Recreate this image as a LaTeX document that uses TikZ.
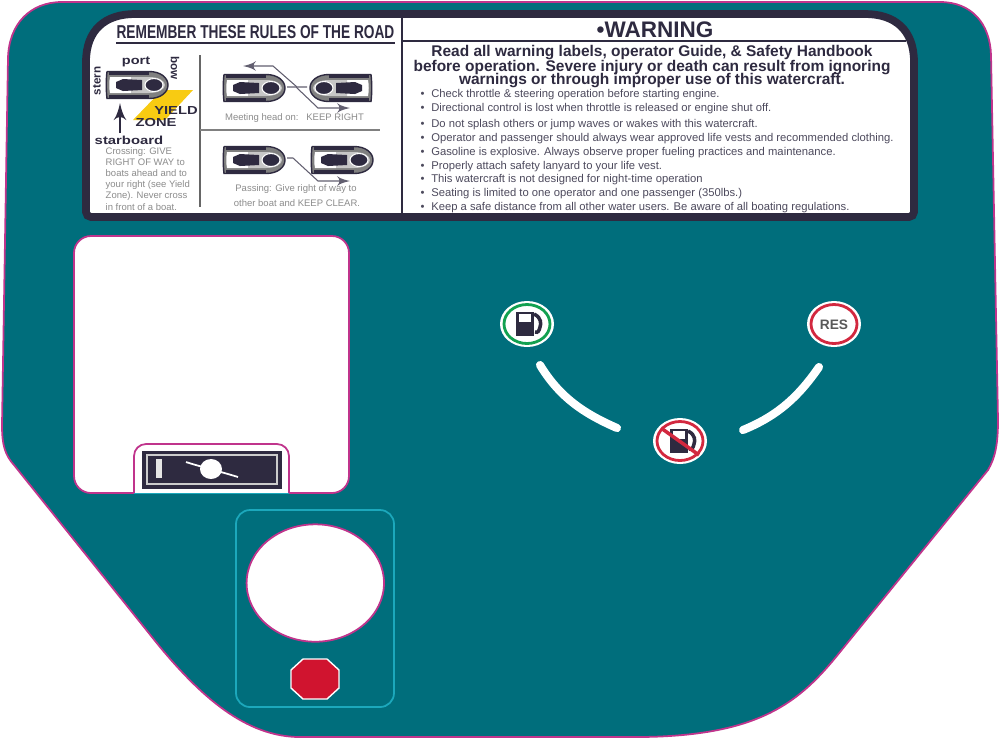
\documentclass[tikz,border=0pt]{standalone}
\usepackage{graphicx}
\usepackage{fontspec}
\setmainfont{Liberation Sans}
\usetikzlibrary{shapes,arrows}
\usetikzlibrary{calc}
\definecolor{hullteal}{HTML}{006E7C}
\definecolor{trimpink}{HTML}{C0348C}
\definecolor{inkdark}{HTML}{2E2A40}
\definecolor{zoneyellow}{HTML}{F8CB12}
\definecolor{stopred}{HTML}{D0142F}
\definecolor{ringred}{HTML}{D2283F}
\definecolor{ringgreen}{HTML}{12A050}
\definecolor{trimcyan}{HTML}{1CA8BC}
\tikzstyle{txt} = [inner sep=0pt, text=inkdark]
\tikzstyle{title} = [txt, font=\fontsize{5.3}{6}\selectfont\bfseries]
\tikzstyle{warnhead} = [txt, font=\fontsize{6.4}{7}\selectfont\bfseries]
\tikzstyle{warnline} = [txt, font=\fontsize{4.4}{5}\selectfont\bfseries]
\tikzstyle{ruleline} = [txt, anchor=west, text=inkdark!85, font=\fontsize{3.2}{4}\selectfont]
\tikzstyle{small} = [txt, text=black!45, font=\fontsize{2.7}{3}\selectfont]
\tikzstyle{tag} = [txt, font=\fontsize{3.3}{4}\selectfont\bfseries]
\tikzstyle{track} = [draw=inkdark!75, line width=0.3pt, ->]
\tikzstyle{slider} = [draw=white, line width=2.3pt, line cap=round]
\newcommand{\bul}{\makebox[3pt][l]{•}}
% one boat, nose to the right
\newcommand{\boat}[3]{
    \begin{scope}[shift={(#1)}, xscale=#2]
        \node[shape=coordinate] at (0,0) (#3) {};
        \fill[black!50, draw=inkdark, line width=0.4pt] (-30,-13.5) -- (12,-13.5)
            .. controls (24,-13.5) and (31,-7) .. (31,0)
            .. controls (31,7) and (24,13.5) .. (12,13.5) -- (-30,13.5)
            .. controls (-31,5) and (-31,-5) .. (-30,-13.5);
        \draw[inkdark, line width=0.6pt] (-28,-11.5) -- (12,-11.5);
        \draw[inkdark, line width=0.6pt] (-28,11.5) -- (12,11.5);
        \fill[white] (-27,-8) -- (-6,-8) -- (-6,8) -- (-27,8)
            .. controls (-28,3) and (-28,-3) .. (-27,-8);
        \fill[black!22] (-6,-8) -- (12,-8) .. controls (22,-8) and (28,-4) .. (28,0)
            .. controls (28,4) and (22,8) .. (12,8) -- (-6,8) -- cycle;
        \fill[inkdark] (-21,-3) -- (-14,-6) -- (5,-5) -- (5,5) -- (-14,6) -- (-21,3) -- cycle;
        \fill[inkdark, draw=white, line width=0.3pt] (17,0) ellipse [x radius=9,y radius=6.5];
    \end{scope}
}
% fuel pump sign
\newcommand{\pump}[1]{
    \begin{scope}[shift={(#1)}]
        \fill[inkdark] (-10,-12) rectangle (8,12);
        \fill[white] (-7,-10) rectangle (5,-2);
        \draw[inkdark, line width=1pt] (8,-10) .. controls (16,-6) and (15,0) .. (14,3)
            .. controls (13,7) and (12,9) .. (9,8);
    \end{scope}
}
\begin{document}
\begin{tikzpicture}[x=0.01cm, y=-0.01cm, >=latex']
    \useasboundingbox (0,0) rectangle (1000,741);
    % the plate
    \draw[fill=hullteal, draw=trimpink, line width=0.5pt] (62,2) -- (940,2)
        .. controls (972,2) and (990,24) .. (991,55) -- (998,420)
        .. controls (998,445) and (995,458) .. (988,470) -- (840,652)
        .. controls (800,702) and (760,736) .. (640,737) -- (300,737)
        .. controls (245,737) and (200,695) .. (160,647) -- (14,465)
        .. controls (5,455) and (2,445) .. (2,425) -- (8,58)
        .. controls (9,24) and (30,2) .. (62,2) -- cycle;

    % the rules panel
    \draw[fill=white, draw=inkdark, line width=2.2pt] (86,200) -- (86,62)
        .. controls (86,30) and (105,14) .. (135,14) -- (865,14)
        .. controls (895,14) and (914,30) .. (914,62) -- (914,200)
        [rounded corners=0.05cm] -- (914,217) -- (86,217) -- (86,200) -- cycle;
    \node[shape=coordinate] at (402,17) (divtop) {};
    \node[shape=coordinate] at (402,213) (divbot) {};
    \draw[inkdark, line width=0.6pt] (divtop) -- (divbot);
    \node[shape=coordinate] at (906,41) (headend) {};
    \draw[inkdark, line width=0.6pt] (402,41) -- (headend);

    % left side of the panel
    \node[title] at (255.5,32) (roadtitle) {\scalebox{.735}[1]{REMEMBER THESE RULES OF THE ROAD}};
    \node[shape=coordinate] at (116,43) (ula) {};
    \node[shape=coordinate] at (395,43) (ulb) {};
    \draw[inkdark, line width=0.6pt] (ula) -- (ulb);
    \node[shape=coordinate] at (200,55) (sepa) {};
    \node[shape=coordinate] at (200,207) (sepb) {};
    \node[shape=coordinate] at (380,130) (sepc) {};
    \node[shape=coordinate] at (200,130) (sepd) {};
    \draw[black!60, line width=0.5pt] (sepa) -- (sepb);
    \draw[black!50, line width=0.8pt] (sepd) -- (sepc);

    \fill[zoneyellow] (162,90) -- (193,90) -- (165,120) -- (133,120) -- cycle;
    \boat{137,85}{1}{boat1}
    \node[tag] at (136,62) (port) {\scalebox{1.25}[1]{port}};
    \node[tag, rotate=90] at (97,81) (stern) {stern};
    \node[tag, rotate=-90] at (175,68) (bow) {bow};
    \node[shape=coordinate] at (120,133) (arrowfoot) {};
    \node[shape=coordinate] at (120,103) (arrowtip) {};
    \draw[->, inkdark, line width=0.7pt] (arrowfoot) -- (arrowtip);
    \node[tag] at (176,110) (yield) {\scalebox{1.27}[1]{YIELD}};
    \node[tag] at (156,122) (zone) {\scalebox{1.27}[1]{ZONE}};
    \node[tag] at (129,140) (starboard) {\scalebox{1.28}[1]{starboard}};
    \node[small, anchor=west] at (105,152) (crossa) {Crossing: GIVE};
    \node[small, anchor=west] at (105,162) (crossb) {RIGHT OF WAY to};
    \node[small, anchor=west] at (105,173) (crossc) {boats ahead and to};
    \node[small, anchor=west] at (105,185) (crossd) {your right (see Yield};
    \node[small, anchor=west] at (105,196) (crosse) {Zone). Never cross};
    \node[small, anchor=west] at (105,207) (crossf) {in front of a boat.};

    % meeting head on
    \boat{254,88}{1}{boat2}
    \boat{341,88}{-1}{boat3}
    \node[shape=coordinate] at (307,87) (ta) {};
    \node[shape=coordinate] at (243,66) (tb) {};
    \node[shape=coordinate] at (287,87) (tc) {};
    \node[shape=coordinate] at (350,108) (td) {};
    \draw[track] (ta) -- (297,87) -- (273,66) -- (tb);
    \draw[track] (tc) -- (296,87) -- (318,108) -- (td);
    \node[small] at (294.5,118) (meeting) {Meeting head on:\ \ \ KEEP RIGHT};

    % passing
    \boat{254,160}{1}{boat4}
    \boat{342,160}{1}{boat5}
    \node[shape=coordinate] at (287,158) (te) {};
    \node[shape=coordinate] at (350,181) (tf) {};
    \draw[track] (te) -- (293,158) -- (318,181) -- (tf);
    \node[small] at (296,189) (passa) {Passing: Give right of way to};
    \node[small] at (297,203) (passb) {other boat and KEEP CLEAR.};

    % warning side of the panel
    \node[warnhead] at (655,30) (warnhd) {•WARNING};
    \node[warnline] at (652,53) (warna) {Read all warning labels, operator Guide, \& Safety Handbook};
    \node[warnline] at (652,67.5) (warnb) {before operation. Severe injury or death can result from ignoring};
    \node[warnline] at (652,81) (warnc) {warnings or through improper use of this watercraft.};
    \node[ruleline] at (420,95) (rule1) {\bul Check throttle \& steering operation before starting engine.};
    \node[ruleline] at (420,109) (rule2) {\bul Directional control is lost when throttle is released or engine shut off.};
    \node[ruleline] at (420,125) (rule3) {\bul Do not splash others or jump waves or wakes with this watercraft.};
    \node[ruleline] at (420,139) (rule4) {\bul Operator and passenger should always wear approved life vests and recommended clothing.};
    \node[ruleline] at (420,153) (rule5) {\bul Gasoline is explosive. Always observe proper fueling practices and maintenance.};
    \node[ruleline] at (420,167) (rule6) {\bul Properly attach safety lanyard to your life vest.};
    \node[ruleline] at (420,180) (rule7) {\bul This watercraft is not designed for night-time operation};
    \node[ruleline] at (420,194) (rule8) {\bul Seating is limited to one operator and one passenger (350lbs.)};
    \node[ruleline] at (420,208) (rule9) {\bul Keep a safe distance from all other water users. Be aware of all boating regulations.};

    % white window and its switch tab
    \draw[fill=white, draw=trimpink, line width=0.5pt, rounded corners=0.17cm] (74,493) rectangle (349,236);
    \draw[fill=white, draw=trimpink, line width=0.5pt, rounded corners=0.12cm] (134,500) -- (134,444) -- (289,444) -- (289,500);
    \fill[hullteal] (130,494) rectangle (293,505);
    \draw[trimcyan, line width=0.4pt] (134,493.5) -- (289,493.5);
    \fill[inkdark] (142,451) rectangle (282,489);
    \draw[white!80!black, line width=0.5pt] (147,455) rectangle (277,484);
    \fill[white!90!black] (156,459) rectangle (162,478);
    \node[shape=coordinate] at (186,462) (swa) {};
    \node[shape=coordinate] at (238,477) (swb) {};
    \draw[white, line width=0.5pt] (swa) .. controls (198,466) and (222,472) .. (swb);
    \fill[white] (211,469) ellipse [x radius=11,y radius=10];

    % gauge box
    \draw[trimcyan, line width=0.5pt, rounded corners=0.14cm] (236,510) rectangle (394,707);
    \draw[fill=white, draw=trimpink, line width=0.5pt] (315.3,583) ellipse [x radius=68.7,y radius=58.7];
    \draw[draw=white, fill=stopred, line width=0.4pt] (303,659) -- (327,659) -- (339,670) -- (339,688)
        -- (327,699) -- (303,699) -- (291,688) -- (291,670) -- cycle;

    % fuel signs
    \draw[fill=white, draw=none] (527,324) ellipse [x radius=27,y radius=23];
    \draw[ringgreen, line width=0.8pt] (527,324) ellipse [x radius=23,y radius=19.5];
    \pump{526,324}
    \node[shape=coordinate] at (527,324) (fuelon) {};

    \draw[fill=white, draw=none] (834,324) ellipse [x radius=27,y radius=23];
    \draw[ringred, line width=0.8pt] (834,324) ellipse [x radius=23,y radius=19.5];
    \node[txt, text=black!65, font=\fontsize{3.9}{5}\selectfont\bfseries] at (834,325) (fuelres) {RES};

    \draw[fill=white, draw=none] (680,441) ellipse [x radius=27,y radius=23];
    \draw[ringred, line width=0.8pt] (680,441) ellipse [x radius=23,y radius=19.5];
    \pump{680,441}
    \draw[ringred, line width=1pt] (661,428) -- (699,455);
    \node[shape=coordinate] at (680,441) (fueloff) {};

    % the two white slider arcs
    \node[shape=coordinate] at (540,365) (arca) {};
    \node[shape=coordinate] at (617,428) (arcb) {};
    \node[shape=coordinate] at (743,430) (arcc) {};
    \node[shape=coordinate] at (819,367) (arcd) {};
    \draw[slider] (arca) .. controls (560,398) and (585,414) .. (arcb);
    \draw[slider] (arcd) .. controls (795,402) and (772,418) .. (arcc);
\end{tikzpicture}
\end{document}
